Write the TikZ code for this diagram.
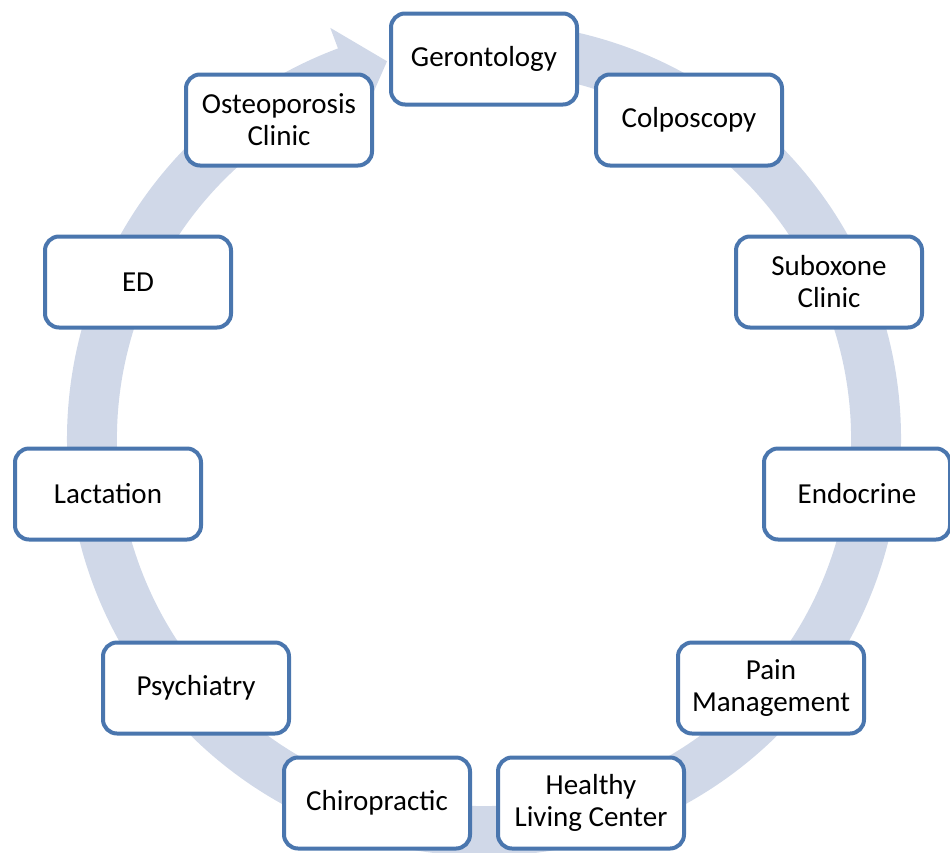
\documentclass[tikz,border=0pt]{standalone}
\usepackage{fontspec}
\setmainfont{Carlito}
\definecolor{bandc}{HTML}{D0D8E8}
\definecolor{boxc}{HTML}{4A76AE}
\begin{document}
\begin{tikzpicture}[x=1pt,y=-1pt,
  box/.style={draw=boxc, line width=4pt, rounded corners=14pt, fill=white,
    minimum width=186pt, minimum height=91pt, align=center, inner sep=0pt,
    font=\fontsize{29}{32}\selectfont}]
\useasboundingbox (0,0) rectangle (950,852);
\begin{scope}[shift={(484,439)}, yscale=-1]
\fill[bandc] (85:417) arc[start angle=85, end angle=-249.5, radius=417]
  -- (-249.5:439) -- (-255.6:390) -- (-249.5:345) -- (-249.5:367)
  arc[start angle=-249.5, end angle=85, radius=367] -- cycle;
\end{scope}
\node[box] (ger) at (484,59) {Gerontology};
\node[box] (col) at (689,120) {Colposcopy};
\node[box] (sub) at (829,282) {Suboxone\\Clinic};
\node[box] (end) at (857,494) {Endocrine};
\node[box] (pain) at (771,688) {Pain\\Management};
\node[box] (hlc) at (591,803) {Healthy\\Living Center};
\node[box] (chi) at (377,803) {Chiropractic};
\node[box] (psy) at (196,688) {Psychiatry};
\node[box] (lac) at (108,494) {Lactation};
\node[box] (ed) at (138,282) {ED};
\node[box] (ost) at (279,120) {Osteoporosis\\Clinic};
\end{tikzpicture}
\end{document}
